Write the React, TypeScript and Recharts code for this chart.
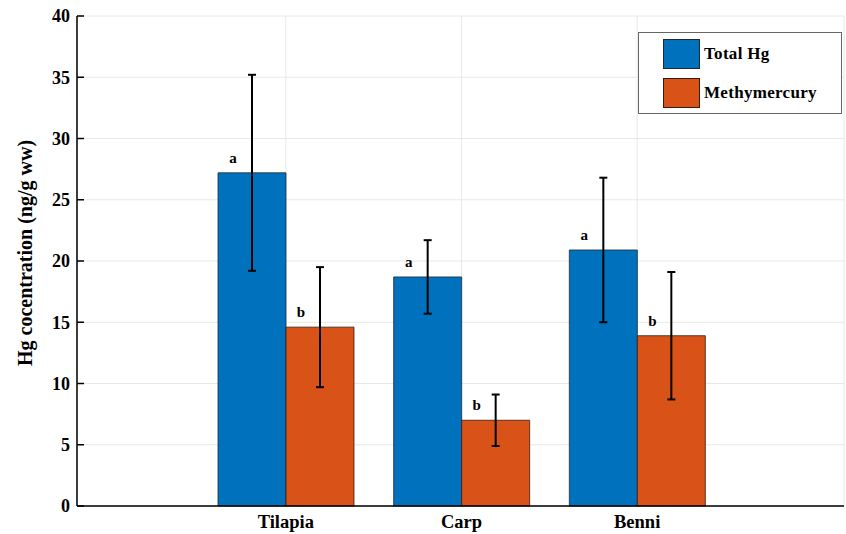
import React from 'react';
import {
  BarChart,
  Bar,
  XAxis,
  YAxis,
  CartesianGrid,
  ErrorBar,
  LabelList,
} from 'recharts';

const categories = ['Tilapia', 'Carp', 'Benni'];
const totalHg = [27.2, 18.7, 20.9];
const totalHgErr = [8.0, 3.0, 5.9];
const methylHg = [14.6, 7.0, 13.9];
const methylHgErr = [4.9, 2.1, 5.2];
const totalLetters = ['a', 'a', 'a'];
const methylLetters = ['b', 'b', 'b'];
const yTicks = [0, 5, 10, 15, 20, 25, 30, 35, 40];

const BLUE = '#0072BD';
const ORANGE = '#D95319';
const FONT = '"Liberation Serif", "Times New Roman", serif';

const data = categories.map((name, i) => ({
  name,
  total: totalHg[i],
  totalErr: totalHgErr[i],
  totalLetter: totalLetters[i],
  methyl: methylHg[i],
  methylErr: methylHgErr[i],
  methylLetter: methylLetters[i],
}));

const YTick = (props: any) => {
  const { x, y, payload } = props;
  return (
    <g>
      <line x1={x + 7} x2={x + 14} y1={y} y2={y} stroke="#000" strokeWidth={1.5} />
      <text
        x={x}
        y={y}
        dy="0.35em"
        textAnchor="end"
        fontFamily={FONT}
        fontWeight="bold"
        fontSize={18}
        fill="#000"
      >
        {payload.value}
      </text>
    </g>
  );
};

const YLabel = (props: any) => {
  const { viewBox } = props;
  const cx = 25;
  const cy = viewBox.y + viewBox.height / 2 - 8;
  return (
    <text
      x={cx}
      y={cy}
      transform={`rotate(-90, ${cx}, ${cy})`}
      textAnchor="middle"
      dominantBaseline="central"
      fontFamily={FONT}
      fontWeight="bold"
      fontSize={20}
      fill="#000"
    >
      Hg cocentration (ng/g ww)
    </text>
  );
};

const Letter = (props: any) => {
  const { x, y, value } = props;
  return (
    <text
      x={x + 15}
      y={y - 10}
      textAnchor="middle"
      fontFamily={FONT}
      fontWeight="bold"
      fontSize={15}
      fill="#000"
    >
      {value}
    </text>
  );
};

export default function App() {
  return (
    <div style={{ position: 'absolute', left: 0, top: 0, width: 846, height: 534, background: '#fff' }}>
      <BarChart
        width={846}
        height={534}
        data={data}
        margin={{ top: 16, right: 2, bottom: 0, left: 0 }}
        barGap={0}
      >
        <CartesianGrid stroke="#e8e8e8" strokeWidth={1} />
        <XAxis
          dataKey="name"
          height={28}
          padding={{ left: 121, right: 119 }}
          tickSize={0}
          tickMargin={9}
          tickLine={false}
          axisLine={{ stroke: '#000', strokeWidth: 1.5 }}
          tick={{ fill: '#000', fontFamily: FONT, fontWeight: 'bold', fontSize: 18.5 }}
        />
        <YAxis
          width={77}
          domain={[0, 40]}
          ticks={yTicks}
          tickSize={0}
          tickMargin={7}
          tickLine={false}
          axisLine={{ stroke: '#000', strokeWidth: 1.5 }}
          tick={<YTick />}
          label={<YLabel />}
        />
        <Bar
          dataKey="total"
          fill={BLUE}
          stroke="#1e2a33"
          strokeOpacity={0.8}
          barSize={68}
          isAnimationActive={false}
        >
          <ErrorBar dataKey="totalErr" width={4} stroke="#000" strokeWidth={2} />
          <LabelList dataKey="totalLetter" content={<Letter />} />
        </Bar>
        <Bar
          dataKey="methyl"
          fill={ORANGE}
          stroke="#3a1a0a"
          strokeOpacity={0.8}
          barSize={68}
          isAnimationActive={false}
        >
          <ErrorBar dataKey="methylErr" width={4} stroke="#000" strokeWidth={2} />
          <LabelList dataKey="methylLetter" content={<Letter />} />
        </Bar>
      </BarChart>
      <div
        style={{
          position: 'absolute',
          left: 638,
          top: 32,
          width: 204,
          height: 82,
          border: '1px solid #666',
          background: '#fff',
          fontFamily: FONT,
          fontWeight: 'bold',
          fontSize: 17,
          boxSizing: 'border-box',
        }}
      >
        {[
          { label: 'Total Hg', color: BLUE, edge: '#1e2a33', top: 6 },
          { label: 'Methymercury', color: ORANGE, edge: '#3a1a0a', top: 45 },
        ].map((item) => (
          <div
            key={item.label}
            style={{ position: 'absolute', left: 24, top: item.top, display: 'flex', alignItems: 'center' }}
          >
            <div
              style={{
                width: 37,
                height: 30,
                background: item.color,
                border: `1px solid ${item.edge}`,
                boxSizing: 'border-box',
              }}
            />
            <span style={{ marginLeft: 4, color: '#000', letterSpacing: 0.3 }}>{item.label}</span>
          </div>
        ))}
      </div>
    </div>
  );
}
